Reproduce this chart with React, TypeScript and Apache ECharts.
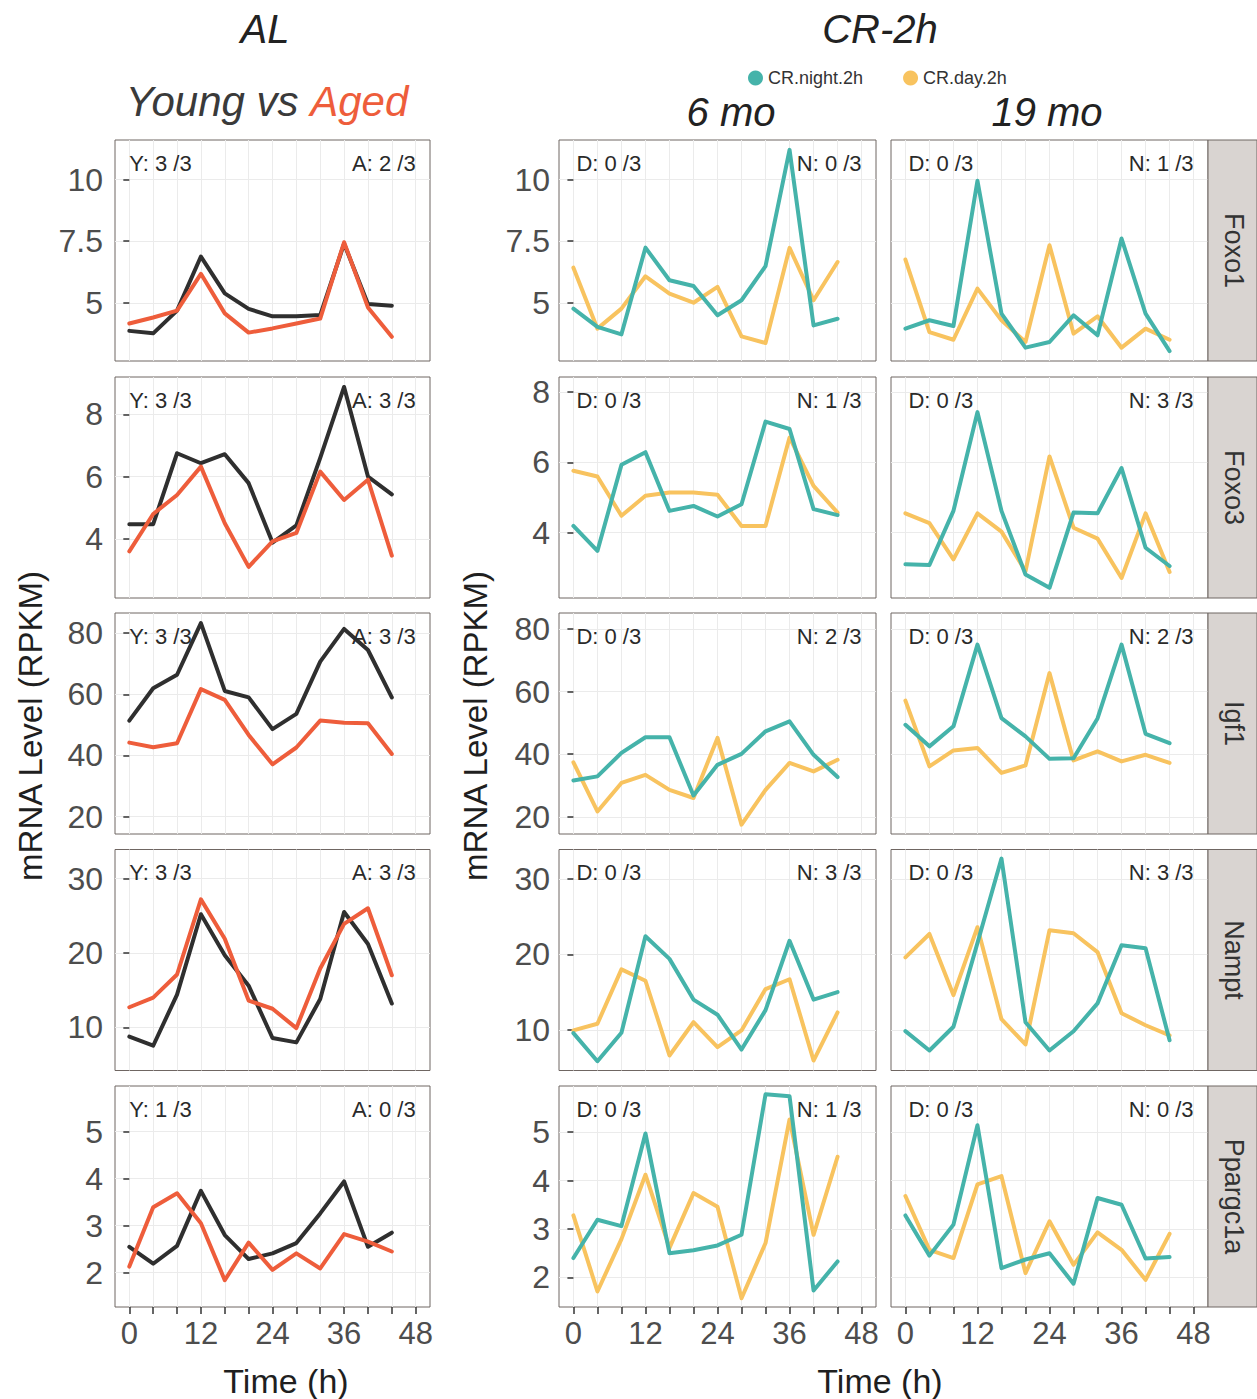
import React, { useEffect, useRef } from "react";
import * as echarts from "echarts";

// Sampling times (h)
const timePoints = [0, 4, 8, 12, 16, 20, 24, 28, 32, 36, 40, 44];
const genes = ["Foxo1", "Foxo3", "Igf1", "Nampt", "Ppargc1a"];

// AL: young vs aged
const foxo1Young = [3.87, 3.77, 4.69, 6.88, 5.39, 4.76, 4.46, 4.46, 4.51, 7.4, 4.96, 4.89];
const foxo1Aged = [4.17, 4.41, 4.69, 6.18, 4.58, 3.8, 3.97, 4.17, 4.37, 7.46, 4.82, 3.63];
const foxo3Young = [4.47, 4.47, 6.75, 6.43, 6.72, 5.79, 3.88, 4.43, 6.6, 8.88, 6.0, 5.43];
const foxo3Aged = [3.6, 4.8, 5.41, 6.32, 4.5, 3.1, 3.92, 4.19, 6.16, 5.25, 5.9, 3.46];
const igf1Young = [51.4, 62.0, 66.4, 83.3, 61.1, 59.0, 48.6, 53.6, 70.7, 81.4, 74.5, 59.0];
const igf1Aged = [44.2, 42.7, 44.0, 61.7, 58.2, 46.7, 37.1, 42.6, 51.4, 50.7, 50.5, 40.5];
const namptYoung = [8.75, 7.53, 14.4, 25.2, 19.7, 15.6, 8.57, 7.98, 13.8, 25.5, 21.2, 13.2];
const namptAged = [12.7, 14.0, 17.1, 27.2, 21.9, 13.6, 12.5, 9.9, 17.9, 23.9, 26.0, 17.0];
const ppargc1aYoung = [2.55, 2.19, 2.57, 3.74, 2.8, 2.29, 2.41, 2.63, 3.26, 3.94, 2.55, 2.85];
const ppargc1aAged = [2.13, 3.39, 3.69, 3.05, 1.84, 2.64, 2.06, 2.41, 2.09, 2.82, 2.66, 2.45];

// CR-2h, 6 months
const foxo1Night6 = [4.77, 4.03, 3.73, 7.24, 5.92, 5.69, 4.5, 5.11, 6.49, 11.2, 4.09, 4.36];
const foxo1Day6 = [6.43, 3.96, 4.77, 6.08, 5.38, 5.01, 5.65, 3.65, 3.38, 7.23, 5.11, 6.66];
const foxo3Night6 = [4.19, 3.48, 5.93, 6.29, 4.62, 4.76, 4.46, 4.81, 7.16, 6.95, 4.67, 4.5];
const foxo3Day6 = [5.76, 5.6, 4.48, 5.05, 5.14, 5.14, 5.08, 4.19, 4.19, 6.71, 5.33, 4.57];
const igf1Night6 = [31.6, 32.9, 40.4, 45.4, 45.4, 26.8, 36.6, 40.1, 47.3, 50.5, 39.8, 32.7];
const igf1Day6 = [37.4, 21.7, 30.8, 33.4, 28.6, 26.0, 45.2, 17.5, 28.6, 37.2, 34.5, 38.2];
const namptNight6 = [9.56, 5.83, 9.6, 22.4, 19.4, 14.0, 12.0, 7.38, 12.6, 21.8, 14.0, 15.0];
const namptDay6 = [9.91, 10.8, 18.0, 16.5, 6.59, 11.0, 7.69, 9.91, 15.4, 16.7, 5.92, 12.3];
const ppargc1aNight6 = [2.4, 3.19, 3.06, 4.97, 2.5, 2.56, 2.66, 2.88, 5.78, 5.74, 1.73, 2.33];
const ppargc1aDay6 = [3.28, 1.71, 2.79, 4.12, 2.61, 3.74, 3.46, 1.57, 2.71, 5.26, 2.88, 4.49];

// CR-2h, 19 months
const foxo1Night19 = [3.96, 4.3, 4.07, 9.95, 4.57, 3.19, 3.42, 4.5, 3.69, 7.61, 4.57, 3.05];
const foxo1Day19 = [6.76, 3.82, 3.51, 5.58, 4.3, 3.42, 7.34, 3.76, 4.46, 3.19, 3.96, 3.51];
const foxo3Night19 = [3.1, 3.08, 4.62, 7.43, 4.62, 2.81, 2.43, 4.57, 4.55, 5.84, 3.57, 3.05];
const foxo3Day19 = [4.55, 4.27, 3.24, 4.55, 4.03, 2.9, 6.17, 4.14, 3.83, 2.71, 4.55, 2.88];
const igf1Night19 = [49.4, 42.5, 48.9, 75.0, 51.5, 45.7, 38.5, 38.7, 51.4, 75.0, 46.5, 43.5];
const igf1Day19 = [57.1, 36.1, 41.2, 42.0, 34.0, 36.4, 65.9, 38.0, 40.9, 37.7, 39.8, 37.2];
const namptNight19 = [9.82, 7.25, 10.4, 21.5, 32.7, 11.0, 7.25, 9.8, 13.5, 21.2, 20.8, 8.6];
const namptDay19 = [19.6, 22.7, 14.6, 23.6, 11.4, 8.05, 23.2, 22.8, 20.3, 12.2, 10.6, 9.25];
const ppargc1aNight19 = [3.28, 2.45, 3.09, 5.14, 2.19, 2.37, 2.5, 1.87, 3.64, 3.5, 2.39, 2.42];
const ppargc1aDay19 = [3.68, 2.57, 2.4, 3.92, 4.09, 2.09, 3.16, 2.26, 2.93, 2.57, 1.95, 2.9];

// Rhythmic replicate counts shown in each panel
const youngCounts = ["3 /3", "3 /3", "3 /3", "3 /3", "1 /3"];
const agedCounts = ["2 /3", "3 /3", "3 /3", "3 /3", "0 /3"];
const day6Counts = ["0 /3", "0 /3", "0 /3", "0 /3", "0 /3"];
const night6Counts = ["0 /3", "1 /3", "2 /3", "3 /3", "1 /3"];
const day19Counts = ["0 /3", "0 /3", "0 /3", "0 /3", "0 /3"];
const night19Counts = ["1 /3", "3 /3", "2 /3", "3 /3", "0 /3"];

// Axis breaks
const xTickValues = [0, 4, 8, 12, 16, 20, 24, 28, 32, 36, 40, 44, 48];
const xLabelValues = [0, 12, 24, 36, 48];
const yTickValues = [
  [5, 7.5, 10],
  [4, 6, 8],
  [20, 40, 60, 80],
  [10, 20, 30],
  [2, 3, 4, 5],
];
const alRanges = [
  [2.65, 11.6],
  [2.1, 9.2],
  [14.3, 86.6],
  [4.2, 33.9],
  [1.27, 5.97],
];
const crRanges = [
  [2.65, 11.6],
  [2.14, 8.43],
  [14.5, 85.1],
  [4.6, 33.9],
  [1.39, 5.95],
];

const alSeries = [
  [foxo1Young, foxo1Aged],
  [foxo3Young, foxo3Aged],
  [igf1Young, igf1Aged],
  [namptYoung, namptAged],
  [ppargc1aYoung, ppargc1aAged],
];
const cr6Series = [
  [foxo1Night6, foxo1Day6],
  [foxo3Night6, foxo3Day6],
  [igf1Night6, igf1Day6],
  [namptNight6, namptDay6],
  [ppargc1aNight6, ppargc1aDay6],
];
const cr19Series = [
  [foxo1Night19, foxo1Day19],
  [foxo3Night19, foxo3Day19],
  [igf1Night19, igf1Day19],
  [namptNight19, namptDay19],
  [ppargc1aNight19, ppargc1aDay19],
];

const X_MIN = -2.4;
const X_MAX = 50.4;
const FONT = '"Liberation Sans", "Helvetica Neue", Arial, sans-serif';
const C_YOUNG = "#2f2f2f";
const C_AGED = "#ee5d3b";
const C_NIGHT = "#45b3aa";
const C_DAY = "#f8c35f";
const C_BORDER = "#6f6662";
const C_GRID = "#ebebeb";
const C_TICKLABEL = "#4d4d4d";

const ROW_TOPS = [140, 377, 613, 849.5, 1086];
const PANEL_H = 221;
const COLS = [
  { left: 115, width: 315 },
  { left: 559, width: 317 },
  { left: 891, width: 317 },
];
const STRIP_X = 1208;
const STRIP_W = 49;

const xPix = (col: { left: number; width: number }, x: number) =>
  col.left + ((x - X_MIN) / (X_MAX - X_MIN)) * col.width;

function buildOption() {
  const grid: any[] = [];
  const xAxis: any[] = [];
  const yAxis: any[] = [];
  const series: any[] = [];
  const graphic: any[] = [];

  const pointsOf = (vals: number[]) => timePoints.map((t, i) => [t, vals[i]]);

  genes.forEach((gene, r) => {
    COLS.forEach((col, c) => {
      const idx = grid.length;
      const isBottom = r === genes.length - 1;
      const showY = c !== 2;
      const range = c === 0 ? alRanges[r] : crRanges[r];
      grid.push({
        left: col.left,
        top: ROW_TOPS[r],
        width: col.width,
        height: PANEL_H,
        show: true,
        backgroundColor: "#ffffff",
        borderColor: C_BORDER,
        borderWidth: 1,
        z: 0,
      });
      xAxis.push({
        type: "value",
        gridIndex: idx,
        min: X_MIN,
        max: X_MAX,
        axisLine: { show: false },
        axisTick: {
          show: isBottom,
          customValues: xTickValues,
          length: 7,
          lineStyle: { color: "#333", width: 1.5 },
        },
        axisLabel: {
          show: isBottom,
          customValues: xLabelValues,
          fontSize: 31,
          fontFamily: FONT,
          color: C_TICKLABEL,
          margin: 11,
        },
        splitLine: { show: true, lineStyle: { color: C_GRID, width: 1 } },
      });
      yAxis.push({
        type: "value",
        gridIndex: idx,
        min: range[0],
        max: range[1],
        axisLine: { show: false },
        axisTick: {
          show: showY,
          customValues: yTickValues[r],
          length: 6,
          lineStyle: { color: "#333", width: 1.5 },
        },
        axisLabel: {
          show: showY,
          customValues: yTickValues[r],
          fontSize: 32,
          fontFamily: FONT,
          color: C_TICKLABEL,
          margin: c === 0 ? 12 : 9,
        },
        splitLine: { show: true, lineStyle: { color: C_GRID, width: 1 } },
      });

      let pair: number[][];
      let names: string[];
      let colors: string[];
      let leftTag: string;
      let rightTag: string;
      if (c === 0) {
        pair = alSeries[r];
        names = ["Young", "Aged"];
        colors = [C_YOUNG, C_AGED];
        leftTag = "Y: " + youngCounts[r];
        rightTag = "A: " + agedCounts[r];
      } else {
        pair = c === 1 ? cr6Series[r] : cr19Series[r];
        names = ["CR.night.2h", "CR.day.2h"];
        colors = [C_NIGHT, C_DAY];
        leftTag = "D: " + (c === 1 ? day6Counts[r] : day19Counts[r]);
        rightTag = "N: " + (c === 1 ? night6Counts[r] : night19Counts[r]);
      }
      // draw order: young then aged; day then night
      const order = c === 0 ? [0, 1] : [1, 0];
      order.forEach((k) => {
        series.push({
          type: "line",
          name: names[k],
          xAxisIndex: idx,
          yAxisIndex: idx,
          data: pointsOf(pair[k]),
          showSymbol: false,
          symbol: "none",
          lineStyle: { color: colors[k], width: 4, cap: "round", join: "round" },
          itemStyle: { color: colors[k] },
          z: 3,
        });
      });

      const tagY = ROW_TOPS[r] + 23;
      const tagStyle = {
        fill: "#2a2a2a",
        fontSize: 22,
        fontFamily: FONT,
        verticalAlign: "middle",
        textVerticalAlign: "middle",
      };
      graphic.push({
        type: "text",
        x: xPix(col, 0) + (c === 0 ? 0 : 3),
        y: tagY,
        z: 50,
        style: { ...tagStyle, text: leftTag, align: "left", textAlign: "left" },
      });
      graphic.push({
        type: "text",
        x: xPix(col, 48),
        y: tagY,
        z: 50,
        style: { ...tagStyle, text: rightTag, align: "right", textAlign: "right" },
      });
    });

    // facet strip with the gene name
    graphic.push({
      type: "rect",
      z: 40,
      shape: { x: STRIP_X, y: ROW_TOPS[r], width: STRIP_W, height: PANEL_H },
      style: { fill: "#d9d4d1", stroke: C_BORDER, lineWidth: 1 },
    });
    graphic.push({
      type: "text",
      z: 41,
      x: STRIP_X + STRIP_W / 2 + 1,
      y: ROW_TOPS[r] + PANEL_H / 2,
      rotation: -Math.PI / 2,
      style: {
        text: gene,
        fill: "#333333",
        fontSize: 27,
        fontFamily: FONT,
        align: "center",
        verticalAlign: "middle",
        textAlign: "center",
        textVerticalAlign: "middle",
      },
    });
  });

  const centered = (text: string, x: number, y: number, size: number, extra: any = {}) => ({
    type: "text",
    x,
    y,
    z: 60,
    style: {
      text,
      fill: "#222222",
      fontSize: size,
      fontFamily: FONT,
      align: "center",
      verticalAlign: "middle",
      textAlign: "center",
      textVerticalAlign: "middle",
      ...extra,
    },
  });

  // column headers
  graphic.push(centered("AL", 265, 29, 40, { fontStyle: "italic" }));
  graphic.push(centered("CR-2h", 880, 29, 40, { fontStyle: "italic" }));
  graphic.push({
    type: "text",
    x: 267,
    y: 101,
    z: 60,
    style: {
      text: "{y|Young vs }{a|Aged}",
      fontSize: 42,
      fontFamily: FONT,
      fontStyle: "italic",
      align: "center",
      verticalAlign: "middle",
      textAlign: "center",
      textVerticalAlign: "middle",
      rich: {
        y: { fill: "#3a3a3a", color: "#3a3a3a", fontSize: 42, fontStyle: "italic", fontFamily: FONT },
        a: { fill: C_AGED, color: C_AGED, fontSize: 42, fontStyle: "italic", fontFamily: FONT },
      },
    },
  });
  graphic.push(centered("6 mo", 731, 112, 40, { fontStyle: "italic" }));
  graphic.push(centered("19 mo", 1047, 112, 40, { fontStyle: "italic" }));

  // axis titles
  const yTitle = (x: number) => ({
    type: "text",
    x,
    y: 726,
    z: 60,
    rotation: Math.PI / 2,
    style: {
      text: "mRNA Level (RPKM)",
      fill: "#1f1f1f",
      fontSize: 33,
      fontFamily: FONT,
      align: "center",
      verticalAlign: "middle",
      textAlign: "center",
      textVerticalAlign: "middle",
    },
  });
  graphic.push(yTitle(30));
  graphic.push(yTitle(475));
  graphic.push(centered("Time (h)", 286, 1381, 34, { fill: "#1f1f1f" }));
  graphic.push(centered("Time (h)", 880, 1381, 34, { fill: "#1f1f1f" }));

  return {
    animation: false,
    backgroundColor: "#ffffff",
    legend: {
      data: ["CR.night.2h", "CR.day.2h"],
      left: 743,
      top: 64,
      icon: "circle",
      itemWidth: 15,
      itemHeight: 15,
      itemGap: 40,
      textStyle: { fontSize: 18, fontFamily: FONT, color: "#333" },
      selectedMode: false,
    },
    grid,
    xAxis,
    yAxis,
    series,
    graphic,
  };
}

export default function App() {
  const ref = useRef<HTMLDivElement>(null);
  useEffect(() => {
    if (!ref.current) return;
    const chart = echarts.init(ref.current, undefined, { renderer: "svg" });
    chart.setOption(buildOption());
    return () => chart.dispose();
  }, []);
  return (
    <div
      ref={ref}
      style={{ position: "absolute", left: 0, top: 0, width: 1257, height: 1399, background: "#fff" }}
    />
  );
}
